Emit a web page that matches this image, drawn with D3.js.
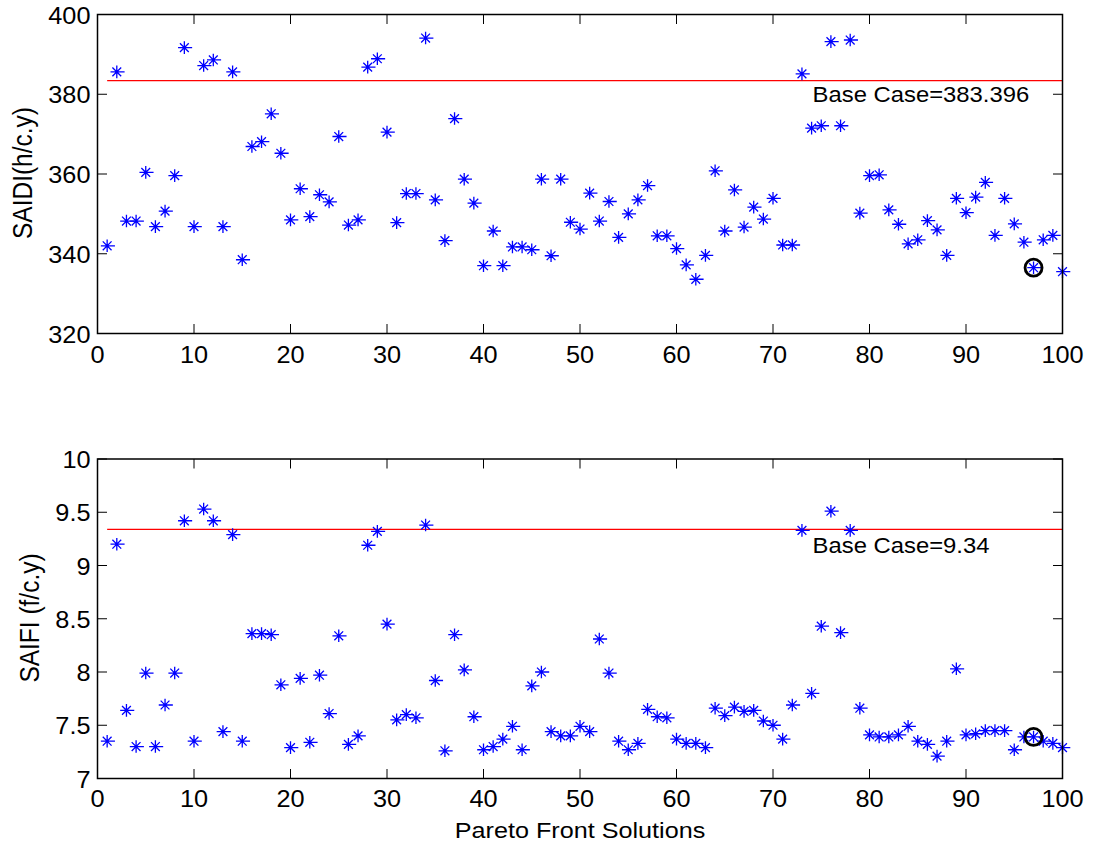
<!DOCTYPE html>
<html><head><meta charset="utf-8">
<script src="https://cdn.jsdelivr.net/npm/d3@7"></script>
<style>
body{margin:0;background:#fff}
svg{display:block}
text{font-family:Arial,"Liberation Sans",sans-serif;fill:#000}
</style>
</head><body>
<svg id="c" width="1093" height="847"></svg>
<script>
const solutions = d3.range(1, 101);
const saidi = [342.0,385.6,348.2,348.2,360.4,346.8,350.7,359.6,391.7,346.8,
387.2,388.6,346.8,385.6,338.5,366.9,368.1,375.1,365.2,348.5,
356.3,349.3,354.8,353.0,369.4,347.2,348.5,386.8,388.9,370.5,
347.8,355.1,355.1,394.1,353.5,343.3,373.9,358.7,352.7,337.0,
345.7,337.0,341.7,341.7,341.0,358.7,339.5,358.7,347.9,346.2,
355.2,348.2,353.1,344.1,350.0,353.5,357.1,344.5,344.5,341.3,
337.2,333.6,339.6,360.8,345.7,356.0,346.7,351.7,348.7,353.9,
342.2,342.2,385.1,371.5,372.1,393.2,372.1,393.6,350.2,359.6,
359.8,351.0,347.4,342.5,343.5,348.3,346.0,339.6,353.9,350.3,
354.2,357.9,344.6,353.9,347.5,342.9,336.5,343.5,344.6,335.5];
const saifi = [7.35,9.20,7.64,7.30,7.99,7.30,7.69,7.99,9.42,7.35,
9.53,9.42,7.44,9.29,7.35,8.36,8.36,8.35,7.88,7.29,
7.94,7.34,7.97,7.61,8.34,7.32,7.40,9.19,9.32,8.45,
7.55,7.60,7.57,9.38,7.92,7.26,8.35,8.02,7.58,7.27,
7.30,7.37,7.49,7.27,7.87,8.00,7.44,7.40,7.40,7.49,
7.44,8.31,7.99,7.35,7.27,7.33,7.65,7.58,7.57,7.37,
7.33,7.33,7.29,7.66,7.59,7.67,7.63,7.64,7.54,7.50,
7.37,7.69,9.33,7.80,8.43,9.51,8.37,9.33,7.66,7.41,
7.39,7.39,7.41,7.49,7.35,7.32,7.21,7.35,8.03,7.41,
7.42,7.45,7.45,7.45,7.27,7.39,7.39,7.35,7.33,7.29];
const saidiBase = 383.396;
const saifiBase = 9.34;
const chosenSolution = 97;
const xTicks = [0,10,20,30,40,50,60,70,80,90,100];
const saidiTicks = [320,340,360,380,400];
const saifiTicks = [7,7.5,8,8.5,9,9.5,10];
const saidiTickLabels = ["320","340","360","380","400"];
const saifiTickLabels = ["7","7.5","8","8.5","9","9.5","10"];
const xLabel = "Pareto Front Solutions";

const svg = d3.select("#c");
const x = d3.scaleLinear().domain([0, 100]).range([97.5, 1062.5]);
const SX = 1.1;
const tickLen = 9.5;

function stretched(sel, tx, ty, sx, extra) {
  sel.attr("transform", `translate(${tx},${ty}) scale(${sx},1)` + (extra || ""));
}

function panel(cfg) {
  const y = d3.scaleLinear().domain(cfg.domain).range(cfg.range);
  const g = svg.append("g");
  const [x0, x1] = x.range();
  const [yb, yt] = y.range();

  g.append("line")
    .attr("x1", x(1)).attr("x2", x(100))
    .attr("y1", y(cfg.base)).attr("y2", y(cfg.base))
    .attr("stroke", "#ff0000").attr("stroke-width", 1.2);

  const s = 6.3, d = 4.4;
  const star = `M${-s},0L${s + 1.5},0M0,${-s}L0,${s}M${-d},${-d}L${d},${d}M${-d},${d}L${d},${-d}`;
  g.append("g").selectAll("path").data(solutions)
    .join("path")
    .attr("d", star)
    .attr("transform", (n, i) => `translate(${x(n)},${y(cfg.values[i])})`)
    .attr("fill", "none").attr("stroke", "#0000ff").attr("stroke-width", 1.3);

  g.append("circle")
    .attr("cx", x(chosenSolution)).attr("cy", y(cfg.values[chosenSolution - 1]))
    .attr("r", 8.5).attr("fill", "none").attr("stroke", "#000").attr("stroke-width", 2.8);

  const ann = g.append("text").text(cfg.annText)
    .attr("font-size", 22.5).attr("dominant-baseline", "central");
  stretched(ann, x(74.1), y(cfg.annY), 1.06);

  g.append("rect").attr("x", x0).attr("y", yt)
    .attr("width", x1 - x0).attr("height", yb - yt)
    .attr("fill", "none").attr("stroke", "#000").attr("stroke-width", 1.5);

  const tg = g.append("g").attr("stroke", "#000").attr("stroke-width", 1);
  xTicks.forEach(t => {
    tg.append("line").attr("x1", x(t)).attr("x2", x(t)).attr("y1", yb).attr("y2", yb - tickLen);
    tg.append("line").attr("x1", x(t)).attr("x2", x(t)).attr("y1", yt).attr("y2", yt + tickLen);
  });
  cfg.ticks.forEach(t => {
    tg.append("line").attr("x1", x0).attr("x2", x0 + tickLen).attr("y1", y(t)).attr("y2", y(t));
    tg.append("line").attr("x1", x1).attr("x2", x1 - tickLen).attr("y1", y(t)).attr("y2", y(t));
  });

  xTicks.forEach(t => {
    const tx = g.append("text").text(String(t)).attr("font-size", 23).attr("text-anchor", "middle");
    stretched(tx, x(t), yb + cfg.xLabOff, SX);
  });
  cfg.ticks.forEach((t, i) => {
    const tx = g.append("text").text(cfg.tickLabels[i]).attr("font-size", 23).attr("text-anchor", "end");
    stretched(tx, x0 - 7, y(t) + 9, SX);
  });

  const yl = g.append("text").text(cfg.ylabel).attr("font-size", 24.5).attr("text-anchor", "middle");
  stretched(yl, cfg.ylx, cfg.yly, SX + 0.03, " rotate(-90)");
  return y;
}

panel({domain: [320, 400], range: [333.5, 14.5], values: saidi, base: saidiBase,
  ticks: saidiTicks, tickLabels: saidiTickLabels,
  annText: "Base Case=383.396", annY: 380,
  ylabel: "SAIDI(h/c.y)", ylx: 32, yly: 173, xLabOff: 29.5});

panel({domain: [7, 10], range: [778.5, 459], values: saifi, base: saifiBase,
  ticks: saifiTicks, tickLabels: saifiTickLabels,
  annText: "Base Case=9.34", annY: 9.19,
  ylabel: "SAIFI (f/c.y)", ylx: 39, yly: 618, xLabOff: 28.5});

const xl = svg.append("text").text(xLabel).attr("font-size", 22.5).attr("text-anchor", "middle");
stretched(xl, x(50), 838, SX + 0.02);
</script>
</body></html>
